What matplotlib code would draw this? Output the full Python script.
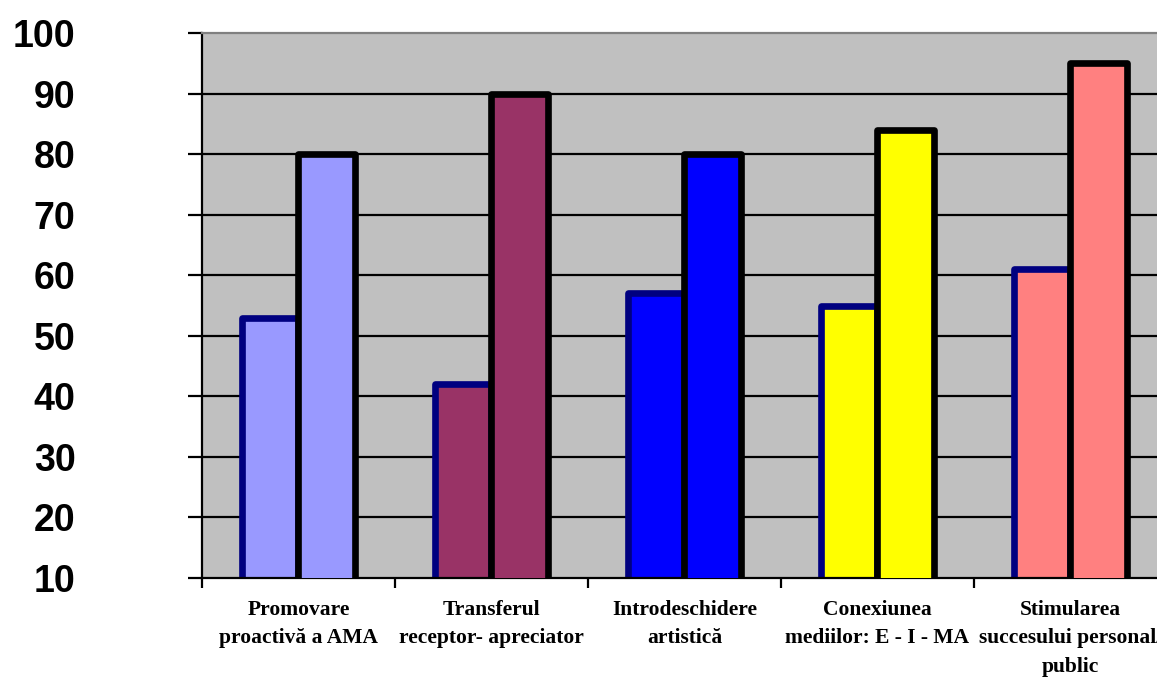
import matplotlib.pyplot as plt
import numpy as np

# Category labels and the two value series per category
categories = ['Promovare\nproactivă a AMA',
              'Transferul\nreceptor- apreciator',
              'Introdeschidere\nartistică',
              'Conexiunea\nmediilor: E - I - MA',
              'Stimularea\nsuccesului personal/\npublic']
before = [53, 42, 57, 55, 61]
after = [80, 90, 80, 84, 95]
colors = ['#9999FF', '#993366', '#0000FF', '#FFFF00', '#FF8080']
yticks = [10, 20, 30, 40, 50, 60, 70, 80, 90, 100]

fig = plt.figure(figsize=(11.57, 6.77), dpi=100)
# plot area runs slightly past the right edge of the figure
ax = fig.add_axes([202 / 1157, 1 - 578 / 677, 965 / 1157, 545 / 677])
ax.set_facecolor('#C0C0C0')

x = np.arange(len(categories))
w = 0.295

# horizontal grid
for y in yticks[1:-1]:
    ax.axhline(y, color='black', lw=1.6, zorder=1)

ax.bar(x - w / 2, before, width=w, bottom=0, color=colors,
       edgecolor='#000080', linewidth=4.8, joinstyle='round', zorder=2)
ax.bar(x + w / 2, after, width=w, bottom=0, color=colors,
       edgecolor='black', linewidth=4.8, joinstyle='round', zorder=3)

ax.set_xlim(-0.5, len(categories) - 0.5)
ax.set_ylim(10, 100)

ax.set_yticks(yticks)
ax.set_yticklabels([str(v) for v in yticks], fontsize=27, fontweight='bold',
                   family='Liberation Sans')
ax.tick_params(axis='y', direction='out', length=10, width=1.6, pad=81)

ax.set_xticks(x)
ax.set_xticklabels(categories, fontsize=15.5, fontweight='bold',
                   family='Liberation Serif', linespacing=1.55)
ax.set_xticks(np.arange(len(categories) + 1) - 0.5, minor=True)
ax.tick_params(axis='x', which='major', length=0, pad=16)
ax.tick_params(axis='x', which='minor', direction='out', length=7, width=1.6)

for side in ['left', 'bottom']:
    ax.spines[side].set_linewidth(1.6)
    ax.spines[side].set_color('black')
ax.spines['top'].set_color('#808080')
ax.spines['top'].set_linewidth(1.6)
ax.spines['right'].set_visible(False)

fig.savefig('out.png', dpi=100)
